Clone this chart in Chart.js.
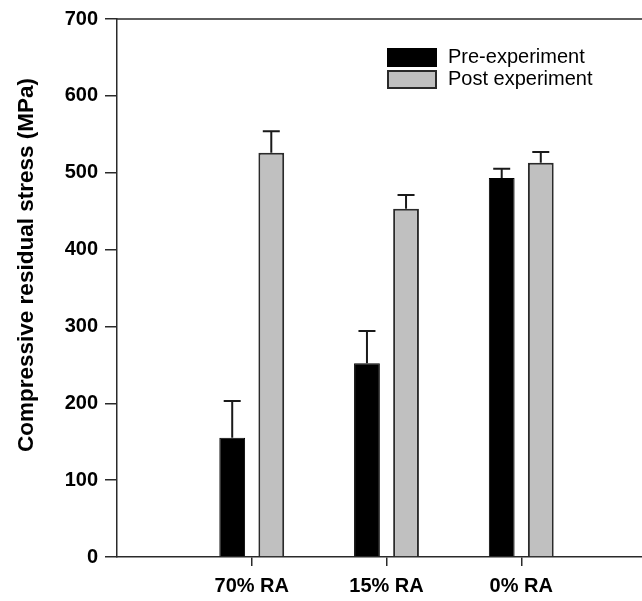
<!DOCTYPE html>
<html>
<head>
<meta charset="utf-8">
<script src="https://cdn.jsdelivr.net/npm/chart.js@4/dist/chart.umd.min.js"></script>
<style>
  html, body { margin: 0; padding: 0; background: #fff; overflow: hidden; }
  #wrap { width: 642px; height: 601px; overflow: hidden; position: relative; }
  #box { width: 664px; height: 601px; }
</style>
</head>
<body>
<div id="wrap"><div id="box"><canvas id="c"></canvas></div></div>
<script>
// Treatment groups along the x axis
const categories = ['70% RA', '15% RA', '0% RA'];
// Compressive residual stress (MPa), mean values
const preExperiment = [155, 252, 493];
const postExperiment = [526, 453, 513];
// Upper error bar lengths (MPa)
const preError = [48, 42, 12];
const postError = [28, 18, 14];
// Y axis tick range
const yMin = 0, yMax = 700, yStep = 100;
const yTitle = 'Compressive residual stress (MPa)';

// Empty slots at both ends leave room on the left and right of the groups
const labels = [''].concat(categories, ['']);
const pad = arr => [null].concat(arr, [null]);

const FONT = "'Liberation Sans', Arial, sans-serif";
const INK = '#1a1a1a';

// Upward-only error bars with a short cap
const errorBars = {
  id: 'errorBars',
  afterDatasetsDraw(chart) {
    const ctx = chart.ctx;
    const y = chart.scales.y;
    chart.data.datasets.forEach((ds, di) => {
      const meta = chart.getDatasetMeta(di);
      meta.data.forEach((bar, i) => {
        const v = ds.data[i];
        const e = ds.errors[i];
        if (v == null || e == null) return;
        const top = y.getPixelForValue(v + e);
        ctx.save();
        ctx.strokeStyle = INK;
        ctx.lineWidth = 2;
        ctx.beginPath();
        ctx.moveTo(bar.x, bar.y);
        ctx.lineTo(bar.x, top);
        ctx.moveTo(bar.x - 8.5, top);
        ctx.lineTo(bar.x + 8.5, top);
        ctx.stroke();
        ctx.restore();
      });
    });
  }
};

// Plot frame, rotated axis title and the boxed legend inside the plot area
const frameAndLegend = {
  id: 'frameAndLegend',
  afterDraw(chart) {
    const ctx = chart.ctx;
    const a = chart.chartArea;
    ctx.save();
    ctx.strokeStyle = '#2a2a2a';
    ctx.lineWidth = 1.5;
    ctx.beginPath();
    ctx.moveTo(a.left, a.top);
    ctx.lineTo(a.right, a.top);
    ctx.lineTo(a.right, a.bottom);
    ctx.stroke();

    // y axis title
    ctx.save();
    ctx.translate(27, a.top + 246);
    ctx.rotate(-Math.PI / 2);
    ctx.font = 'bold 22.5px ' + FONT;
    ctx.fillStyle = '#000';
    ctx.textAlign = 'center';
    ctx.textBaseline = 'middle';
    ctx.fillText(yTitle, 0, 0);
    ctx.restore();

    // legend
    const bx = a.left + 270, bw = 50, bh = 19;
    let by = a.top + 29;
    ctx.font = '20px ' + FONT;
    ctx.textBaseline = 'middle';
    ctx.textAlign = 'left';
    chart.data.datasets.forEach(ds => {
      ctx.fillStyle = ds.backgroundColor;
      ctx.fillRect(bx, by, bw, bh);
      ctx.strokeStyle = ds.borderColor;
      ctx.lineWidth = 2;
      ctx.strokeRect(bx + 1, by + 1, bw - 2, bh - 2);
      ctx.fillStyle = '#000';
      ctx.fillText(ds.label, bx + bw + 11, by + bh / 2);
      by += bh + 3;
    });
    ctx.restore();
  }
};

new Chart(document.getElementById('c'), {
  type: 'bar',
  data: {
    labels: labels,
    datasets: [
      {
        label: 'Pre-experiment',
        data: pad(preExperiment),
        errors: pad(preError),
        backgroundColor: '#000000',
        borderColor: '#000000',
        borderWidth: 1
      },
      {
        label: 'Post experiment',
        data: pad(postExperiment),
        errors: pad(postError),
        backgroundColor: '#c0c0c0',
        borderColor: '#2a2a2a',
        borderWidth: 2
      }
    ]
  },
  options: {
    responsive: true,
    maintainAspectRatio: false,
    animation: false,
    categoryPercentage: 0.58,
    barPercentage: 0.66,
    layout: { padding: { top: 18, right: 5, left: 0, bottom: 0 } },
    plugins: {
      legend: { display: false },
      tooltip: { enabled: false }
    },
    scales: {
      x: {
        offset: false,
        grid: {
          offset: false,
          drawOnChartArea: false,
          tickLength: 9,
          lineWidth: 1.5,
          tickColor: c => (c.tick && c.tick.label === '') ? 'rgba(0,0,0,0)' : '#2a2a2a'
        },
        border: { color: '#2a2a2a', width: 1.5 },
        ticks: {
          color: '#000',
          padding: 8,
          font: { family: FONT, size: 20, weight: 'bold' },
          maxRotation: 0,
          autoSkip: false
        },
        afterFit: s => { s.height = 44; }
      },
      y: {
        min: yMin,
        max: yMax,
        grid: {
          drawOnChartArea: false,
          tickLength: 12,
          lineWidth: 1.5,
          tickColor: '#2a2a2a'
        },
        border: { color: '#2a2a2a', width: 1.5 },
        ticks: {
          stepSize: yStep,
          color: '#000',
          padding: 7,
          font: { family: FONT, size: 20, weight: 'bold' }
        },
        afterFit: s => { s.width = 117; }
      }
    }
  },
  plugins: [errorBars, frameAndLegend]
});
</script>
</body>
</html>
